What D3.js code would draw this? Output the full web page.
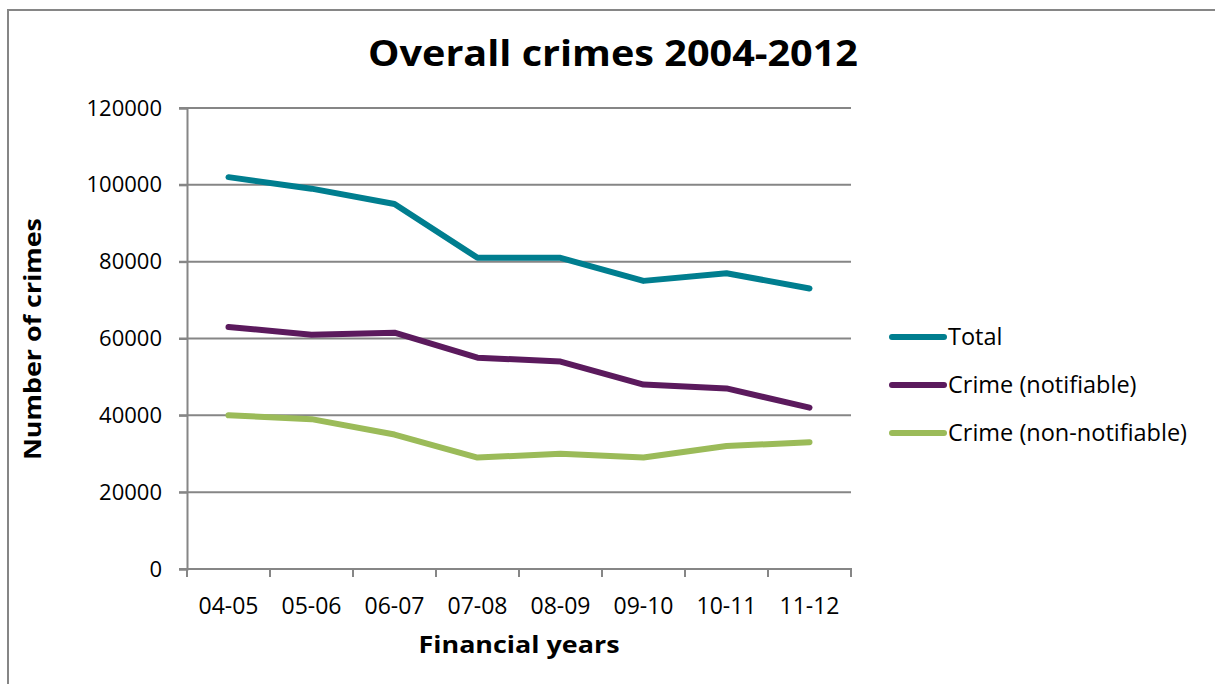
<!DOCTYPE html>
<html>
<head>
<meta charset="utf-8">
<script src="https://cdn.jsdelivr.net/npm/d3@7"></script>
<style>
  body { margin: 0; background: #fff; }
  svg { display: block; }
  text { fill: #000; }
</style>
</head>
<body>
<div id="chart"></div>
<script>
// 1: DATA
const years = ["04-05", "05-06", "06-07", "07-08", "08-09", "09-10", "10-11", "11-12"];
const total = [102000, 99000, 95000, 81000, 81000, 75000, 77000, 73000];
const notifiable = [63000, 61000, 61500, 55000, 54000, 48000, 47000, 42000];
const nonNotifiable = [40000, 39000, 35000, 29000, 30000, 29000, 32000, 33000];
const seriesNames = ["Total", "Crime (notifiable)", "Crime (non-notifiable)"];
const seriesColors = ["#007e8f", "#5b1a5d", "#9bbb59"];
const yTicks = [0, 20000, 40000, 60000, 80000, 100000, 120000];

const series = [total, notifiable, nonNotifiable].map((vals, i) => ({
    name: seriesNames[i],
    color: seriesColors[i],
    values: vals.map((v, j) => ({ year: years[j], value: v }))
}));

// 2: SVG + LAYOUT
const W = 1215, H = 684;
const plot = { left: 187, top: 108, right: 851, bottom: 569 };

const svg = d3.select("#chart")
    .append("svg")
    .attr("width", W)
    .attr("height", H);

// outer chart border (right and bottom run off the picture)
svg.append("rect")
    .attr("x", 8).attr("y", 10)
    .attr("width", 1240).attr("height", 700)
    .attr("fill", "none")
    .attr("stroke", "#868686")
    .attr("stroke-width", 2);

// 3: SCALES
const xScale = d3.scaleBand()
    .domain(years)
    .range([plot.left, plot.right]);

const yScale = d3.scaleLinear()
    .domain([0, 120000])
    .range([plot.bottom, plot.top]);

// 4: GRIDLINES + AXES
svg.append("g")
    .selectAll("line")
    .data(yTicks.filter(d => d > 0))
    .join("line")
    .attr("x1", plot.left - 8)
    .attr("x2", plot.right)
    .attr("y1", d => yScale(d))
    .attr("y2", d => yScale(d))
    .attr("stroke", "#868686")
    .attr("stroke-width", 2);

const yAxis = svg.append("g")
    .attr("transform", `translate(${plot.left},0)`)
    .call(d3.axisLeft(yScale).tickValues(yTicks).tickSize(8).tickPadding(17).tickFormat(d3.format("d")));
yAxis.select(".domain").attr("stroke", "#868686").attr("stroke-width", 2);
yAxis.selectAll(".tick line").attr("stroke", "#868686").attr("stroke-width", 2);
yAxis.selectAll(".tick text")
    .attr("font-family", "'Open Sans', sans-serif")
    .attr("font-size", 22)
    .attr("fill", "#000");

// x axis: ticks sit on the band edges
const xAxis = svg.append("g")
    .attr("transform", `translate(0,${plot.bottom})`);
xAxis.append("line")
    .attr("x1", plot.left - 8).attr("x2", plot.right + 1)
    .attr("stroke", "#868686").attr("stroke-width", 2);
xAxis.selectAll(".xtick")
    .data(years.concat(["end"]))
    .join("line")
    .attr("class", "xtick")
    .attr("x1", (d, i) => i < years.length ? xScale(d) : plot.right)
    .attr("x2", (d, i) => i < years.length ? xScale(d) : plot.right)
    .attr("y1", 0).attr("y2", 8)
    .attr("stroke", "#868686").attr("stroke-width", 2);
xAxis.selectAll(".xlabel")
    .data(years)
    .join("text")
    .attr("class", "xlabel")
    .attr("x", d => xScale(d) + xScale.bandwidth() / 2)
    .attr("y", 45)
    .attr("text-anchor", "middle")
    .attr("font-family", "'Open Sans', sans-serif")
    .attr("font-size", 23)
    .text(d => d);

// 5: LINES
const line = d3.line()
    .x(d => xScale(d.year) + xScale.bandwidth() / 2)
    .y(d => yScale(d.value));

svg.append("g")
    .selectAll("path")
    .data(series)
    .join("path")
    .attr("d", d => line(d.values))
    .attr("fill", "none")
    .attr("stroke", d => d.color)
    .attr("stroke-width", 6)
    .attr("stroke-linecap", "round")
    .attr("stroke-linejoin", "round");

// 6: LABELS
svg.append("text")
    .attr("x", 613)
    .attr("y", 66)
    .attr("text-anchor", "middle")
    .attr("font-family", "'Open Sans', sans-serif")
    .attr("font-weight", "bold")
    .attr("font-size", 36)
    .attr("textLength", 490)
    .attr("lengthAdjust", "spacingAndGlyphs")
    .text("Overall crimes 2004-2012");

svg.append("text")
    .attr("x", 519)
    .attr("y", 653)
    .attr("text-anchor", "middle")
    .attr("font-family", "'Open Sans', sans-serif")
    .attr("font-weight", "bold")
    .attr("font-size", 24)
    .attr("textLength", 201)
    .attr("lengthAdjust", "spacingAndGlyphs")
    .text("Financial years");

svg.append("text")
    .attr("transform", "translate(41,339) rotate(-90)")
    .attr("text-anchor", "middle")
    .attr("font-family", "'Open Sans', sans-serif")
    .attr("font-weight", "bold")
    .attr("font-size", 24)
    .attr("textLength", 242)
    .attr("lengthAdjust", "spacingAndGlyphs")
    .text("Number of crimes");

// 7: LEGEND
const legend = svg.append("g")
    .selectAll("g")
    .data(series)
    .join("g")
    .attr("transform", (d, i) => `translate(892,${337 + i * 48})`);
legend.append("line")
    .attr("x1", 0).attr("x2", 52)
    .attr("stroke", d => d.color)
    .attr("stroke-width", 6)
    .attr("stroke-linecap", "round");
legend.append("text")
    .attr("x", 56)
    .attr("dy", "0.35em")
    .attr("font-family", "'Open Sans', sans-serif")
    .attr("font-size", 23.5)
    .text(d => d.name);
</script>
</body>
</html>
